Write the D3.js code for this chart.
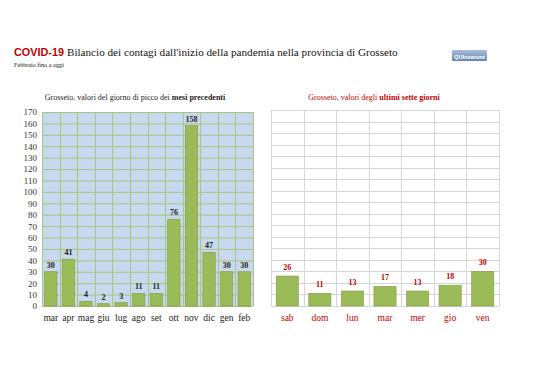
<!DOCTYPE html>
<html><head><meta charset="utf-8">
<script src="https://cdn.jsdelivr.net/npm/d3@7"></script>
<style>body{margin:0;background:#fff}svg{display:block}</style>
</head><body>
<svg id="c" width="538" height="380"></svg>
<script>
const monthLabels = ["mar","apr","mag","giu","lug","ago","set","ott","nov","dic","gen","feb"];
const monthValues = [30,41,4,2,3,11,11,76,158,47,30,30];
const dayLabels = ["sab","dom","lun","mar","mer","gio","ven"];
const dayValues = [26,11,13,17,13,18,30];
const yTicks = d3.range(0,171,10);

const svg = d3.select("#c");
const serif = "'Liberation Serif','DejaVu Serif',serif";
const sans = "'Liberation Sans','Open Sans',Arial,sans-serif";
const red = "#C00000";
const barFill = "#9BBB59", barStroke = "#7E9B40";

// fit a text's font-size so its natural width equals w (no textLength)
function fitText(sel, w, maxSize) {
  const base = +sel.attr("font-size");
  const len = sel.node().getComputedTextLength();
  const size = Math.min(maxSize, base * w / len);
  sel.attr("font-size", size.toFixed(2));
  return sel;
}

// Title
const covid = svg.append("text").attr("x",14).attr("y",56).attr("font-family",sans).attr("font-weight","bold")
  .attr("font-size",12).attr("fill",red).text("COVID-19");
fitText(covid, 50, 12);
const covEnd = 14 + covid.node().getComputedTextLength();
const title = svg.append("text").attr("x",covEnd+3).attr("y",56).attr("font-family",serif)
  .attr("font-size",14).attr("fill","#111")
  .text("Bilancio dei contagi dall'inizio della pandemia nella provincia di Grosseto");
fitText(title, 398-(covEnd+3), 15);
const sub = svg.append("text").attr("x",14).attr("y",67).attr("font-family",serif)
  .attr("font-size",6.5).attr("fill","#111").text("Febbraio fino a oggi");
fitText(sub, 50, 7);

// Logo
const defs = svg.append("defs");
const lg = defs.append("linearGradient").attr("id","lg").attr("x1",0).attr("y1",0).attr("x2",0).attr("y2",1);
lg.append("stop").attr("offset","0%").attr("stop-color","#a9bedb");
lg.append("stop").attr("offset","100%").attr("stop-color","#6385b0");
svg.append("rect").attr("x",452).attr("y",50).attr("width",35).attr("height",11).attr("fill","url(#lg)").attr("rx",1);
const logo = svg.append("text").attr("x",454).attr("y",58.5).attr("font-family",sans).attr("font-weight","bold")
  .attr("font-size",7).attr("fill","#fff").text("QUInewsmt");
fitText(logo, 31, 7);

// ---------- Left chart ----------
const L = {x0:42, x1:253, y0:112, y1:306};
const xL = d3.scaleBand().domain(monthLabels).range([L.x0,L.x1]).paddingInner(0.3).paddingOuter(0.15);
const yL = d3.scaleLinear().domain([0,170]).range([L.y1,L.y0]);
const gL = svg.append("g");
gL.append("rect").attr("x",L.x0).attr("y",L.y0).attr("width",L.x1-L.x0).attr("height",L.y1-L.y0).attr("fill","#C8D8EE");
gL.append("g").selectAll("line").data(yTicks).join("line")
  .attr("x1",L.x0).attr("x2",L.x1).attr("y1",d=>yL(d)+0.5).attr("y2",d=>yL(d)+0.5)
  .attr("stroke","#A9C47F").attr("stroke-width",1);
const stepL = (L.x1-L.x0)/monthLabels.length;
gL.append("g").selectAll("line").data(d3.range(monthLabels.length+1)).join("line")
  .attr("x1",i=>Math.round(L.x0+i*stepL)+0.5).attr("x2",i=>Math.round(L.x0+i*stepL)+0.5)
  .attr("y1",L.y0).attr("y2",L.y1).attr("stroke","#A9C47F").attr("stroke-width",1);
const axL = d3.axisLeft(yL).tickValues(yTicks).tickSize(0).tickPadding(5);
const axLg = svg.append("g").attr("transform",`translate(${L.x0},0)`).call(axL);
axLg.select(".domain").remove();
axLg.selectAll("text").attr("font-family",serif).attr("font-size",9).attr("fill","#333");
gL.append("g").selectAll("rect").data(monthValues).join("rect")
  .attr("x",(d,i)=>xL(monthLabels[i])).attr("width",xL.bandwidth())
  .attr("y",d=>yL(d)).attr("height",d=>L.y1-yL(d))
  .attr("fill",barFill).attr("stroke",barStroke).attr("stroke-width",0.6);
gL.append("g").selectAll("text").data(monthValues).join("text")
  .attr("x",(d,i)=>xL(monthLabels[i])+xL.bandwidth()/2).attr("y",d=>yL(d)-4)
  .attr("text-anchor","middle").attr("font-family",serif).attr("font-weight","bold")
  .attr("font-size",8).attr("fill","#222").text(d=>d);
const axXL = d3.axisBottom(xL).tickSize(0).tickPadding(8);
const axXLg = svg.append("g").attr("transform",`translate(0,${L.y1})`).call(axXL);
axXLg.select(".domain").remove();
axXLg.selectAll("text").attr("font-family",serif).attr("font-size",9.5).attr("fill","#222");
const st1 = svg.append("text").attr("x",135).attr("y",100).attr("text-anchor","middle")
  .attr("font-family",serif).attr("font-size",8).attr("fill","#222");
st1.append("tspan").text("Grosseto, valori del giorno di picco dei ");
st1.append("tspan").attr("font-weight","bold").text("mesi precedenti");

// ---------- Right chart ----------
const R = {x0:271, x1:499, y0:110, y1:306};
const xR = d3.scaleBand().domain(dayLabels).range([R.x0,R.x1]).paddingInner(0.32).paddingOuter(0.16);
const yR = d3.scaleLinear().domain([0,170]).range([R.y1,R.y0]);
const gR = svg.append("g");
gR.append("g").selectAll("line").data(yTicks).join("line")
  .attr("x1",R.x0).attr("x2",R.x1).attr("y1",d=>Math.round(yR(d))+0.5).attr("y2",d=>Math.round(yR(d))+0.5)
  .attr("stroke","#D6D6D6").attr("stroke-width",1);
const stepR = (R.x1-R.x0)/dayLabels.length;
gR.append("g").selectAll("line").data(d3.range(dayLabels.length+1)).join("line")
  .attr("x1",i=>Math.round(R.x0+i*stepR)+0.5).attr("x2",i=>Math.round(R.x0+i*stepR)+0.5)
  .attr("y1",R.y0).attr("y2",R.y1).attr("stroke","#D6D6D6").attr("stroke-width",1);
gR.append("g").selectAll("rect").data(dayValues).join("rect")
  .attr("x",(d,i)=>xR(dayLabels[i])).attr("width",xR.bandwidth())
  .attr("y",d=>yR(d)).attr("height",d=>R.y1-yR(d))
  .attr("fill",barFill).attr("stroke",barStroke).attr("stroke-width",0.6);
gR.append("g").selectAll("text").data(dayValues).join("text")
  .attr("x",(d,i)=>xR(dayLabels[i])+xR.bandwidth()/2).attr("y",d=>yR(d)-6)
  .attr("text-anchor","middle").attr("font-family",serif).attr("font-weight","bold")
  .attr("font-size",8).attr("fill",red).text(d=>d);
const axXR = d3.axisBottom(xR).tickSize(0).tickPadding(8);
const axXRg = svg.append("g").attr("transform",`translate(0,${R.y1})`).call(axXR);
axXRg.select(".domain").remove();
axXRg.selectAll("text").attr("font-family",serif).attr("font-size",9.5).attr("fill",red);
const st2 = svg.append("text").attr("x",374).attr("y",100).attr("text-anchor","middle")
  .attr("font-family",serif).attr("font-size",8).attr("fill",red);
st2.append("tspan").text("Grosseto, valori degli ");
st2.append("tspan").attr("font-weight","bold").text("ultimi sette giorni");
</script>
</body></html>
